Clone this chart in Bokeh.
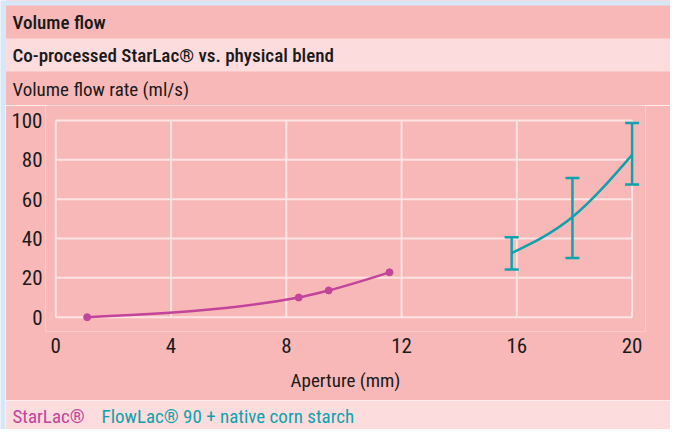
from bokeh.plotting import figure
from bokeh.models import Range1d, FixedTicker, Whisker, TeeHead, ColumnDataSource
from bokeh.layouts import column, row
from bokeh.embed import file_html
from bokeh.resources import INLINE
from bokeh.core.properties import value

# ---------------- data ----------------
title = "Volume flow"
subtitle = "Co-processed StarLac® vs. physical blend"
y_label = "Volume flow rate (ml/s)"
x_label = "Aperture (mm)"
x_ticks = [0, 4, 8, 12, 16, 20]
y_ticks = [0, 20, 40, 60, 80, 100]

starlac_name = "StarLac®"
starlac_x = [1.09, 8.43, 9.47, 11.58]
starlac_y = [0.0, 10.0, 13.6, 22.8]

blend_name = "FlowLac® 90 + native corn starch"
blend_x = [15.82, 17.93, 20.0]
blend_y = [32.6, 50.9, 82.5]
blend_low = [24.3, 30.1, 67.5]
blend_high = [40.6, 70.7, 98.7]

# ---------------- style ----------------
BLUE = "#d6e8f8"
DARK = "#f8b8b8"
LIGHT = "#fddcdd"
GRID = "#fde3e3"
MAG = "#c2449b"
TEAL = "#0fa2ad"
INK = "#1a1a1a"
FONT = "Roboto Condensed"
FONT_MED = "Roboto Condensed Medium"

W = 665


def monotone_beziers(xs, ys):
    n = len(xs)
    h = [xs[i + 1] - xs[i] for i in range(n - 1)]
    s = [(ys[i + 1] - ys[i]) / h[i] for i in range(n - 1)]
    m = [0.0] * n
    for i in range(1, n - 1):
        if s[i - 1] * s[i] <= 0:
            m[i] = 0.0
        else:
            pp = (s[i - 1] * h[i] + s[i] * h[i - 1]) / (h[i - 1] + h[i])
            sg = 1 if s[i] > 0 else -1
            m[i] = 2 * sg * min(abs(s[i - 1]), abs(s[i]), 0.5 * abs(pp))
    if n > 2:
        m[0] = (3 * s[0] - m[1]) / 2
        m[-1] = (3 * s[-1] - m[-2]) / 2
    else:
        m[0] = m[-1] = s[0]
    out = dict(x0=[], y0=[], x1=[], y1=[], cx0=[], cy0=[], cx1=[], cy1=[])
    for i in range(n - 1):
        dx = h[i] / 3
        out["x0"].append(xs[i]); out["y0"].append(ys[i])
        out["x1"].append(xs[i + 1]); out["y1"].append(ys[i + 1])
        out["cx0"].append(xs[i] + dx); out["cy0"].append(ys[i] + dx * m[i])
        out["cx1"].append(xs[i + 1] - dx); out["cy1"].append(ys[i + 1] - dx * m[i + 1])
    return out


def band_fig(w, h, bg):
    f = figure(width=w, height=h, x_range=Range1d(0, w), y_range=Range1d(h, 0),
               output_backend="svg", toolbar_location=None, min_border=0,
               x_axis_type=None, y_axis_type=None, frame_align=False)
    f.outline_line_color = None
    f.background_fill_color = bg
    f.border_fill_color = bg
    return f


# ---------------- header ----------------
hdr = band_fig(W, 105, DARK)
hdr.quad(left=[0], right=[W], top=[0], bottom=[5], fill_color=BLUE, line_color=None)
hdr.quad(left=[0], right=[W], top=[38], bottom=[71], fill_color=LIGHT, line_color=None)
hdr.text(x=[7], y=[21.5], text=[title], text_font=value(FONT_MED), text_font_size="19px",
         text_color=INK, text_baseline="middle")
hdr.text(x=[7], y=[55], text=[subtitle], text_font=value(FONT_MED), text_font_size="19px",
         text_color=INK, text_baseline="middle")
hdr.text(x=[7], y=[89], text=[y_label], text_font=value(FONT), text_font_size="19px",
         text_color=INK, text_baseline="middle")

# ---------------- main plot ----------------
p = figure(width=W, height=295, x_range=Range1d(-0.357, 20.465), y_range=Range1d(-7.27, 107.6),
           output_backend="svg", toolbar_location=None, frame_align=False,
           min_border_left=40, min_border_right=25, min_border_top=0, min_border_bottom=69)
p.outline_line_color = None
p.background_fill_color = DARK
p.border_fill_color = DARK
p.xgrid.visible = False
p.ygrid.visible = False

nx, ny = len(x_ticks), len(y_ticks)
p.segment(x0=x_ticks, y0=[y_ticks[0]] * nx, x1=x_ticks, y1=[y_ticks[-1]] * nx,
          line_color=GRID, line_width=2, level="underlay")
p.segment(x0=[x_ticks[0]] * ny, y0=y_ticks, x1=[x_ticks[-1]] * ny, y1=y_ticks,
          line_color=GRID, line_width=2, level="underlay")

b1 = monotone_beziers(starlac_x, starlac_y)
p.bezier(source=ColumnDataSource(b1), x0="x0", y0="y0", x1="x1", y1="y1",
         cx0="cx0", cy0="cy0", cx1="cx1", cy1="cy1", line_color=MAG, line_width=2.5)
p.scatter(starlac_x, starlac_y, size=7, fill_color=MAG, line_color=MAG)

b2 = monotone_beziers(blend_x, blend_y)
p.bezier(source=ColumnDataSource(b2), x0="x0", y0="y0", x1="x1", y1="y1",
         cx0="cx0", cy0="cy0", cx1="cx1", cy1="cy1", line_color=TEAL, line_width=2.5)
err_src = ColumnDataSource(dict(x=blend_x, lower=blend_low, upper=blend_high))
p.add_layout(Whisker(base="x", lower="lower", upper="upper", source=err_src,
                     dimension="height", line_color=TEAL, line_width=2.5, level="overlay",
                     upper_head=TeeHead(size=14, line_color=TEAL, line_width=2.5),
                     lower_head=TeeHead(size=14, line_color=TEAL, line_width=2.5)))

for ax in (p.xaxis, p.yaxis):
    ax.axis_line_color = None
    ax.major_tick_line_color = None
    ax.minor_tick_line_color = None
    ax.major_tick_out = 0
    ax.major_tick_in = 0
    ax.minor_tick_out = 0
    ax.major_label_text_font = FONT
    ax.major_label_text_font_size = "21px"
    ax.major_label_text_color = INK
p.xaxis.ticker = FixedTicker(ticks=x_ticks)
p.yaxis.ticker = FixedTicker(ticks=y_ticks)
p.xaxis.major_label_standoff = 6
p.yaxis.major_label_standoff = 3
p.xaxis.axis_label = x_label
p.xaxis.axis_label_text_font = FONT
p.xaxis.axis_label_text_font_size = "19px"
p.xaxis.axis_label_text_font_style = "normal"
p.xaxis.axis_label_text_color = INK
p.xaxis.axis_label_standoff = 13

# ---------------- legend band ----------------
leg = band_fig(W, 29, LIGHT)
leg.text(x=[7], y=[15.5], text=[starlac_name], text_font=value(FONT), text_font_size="19px",
         text_color=MAG, text_baseline="middle")
leg.text(x=[96], y=[15.5], text=[blend_name], text_font=value(FONT), text_font_size="19px",
         text_color=TEAL, text_baseline="middle")

# ---------------- left blue strip ----------------
strip = band_fig(5, 429, BLUE)

layout = row(strip, column(hdr, p, leg))

open("out.html", "w").write(file_html(layout, INLINE))
